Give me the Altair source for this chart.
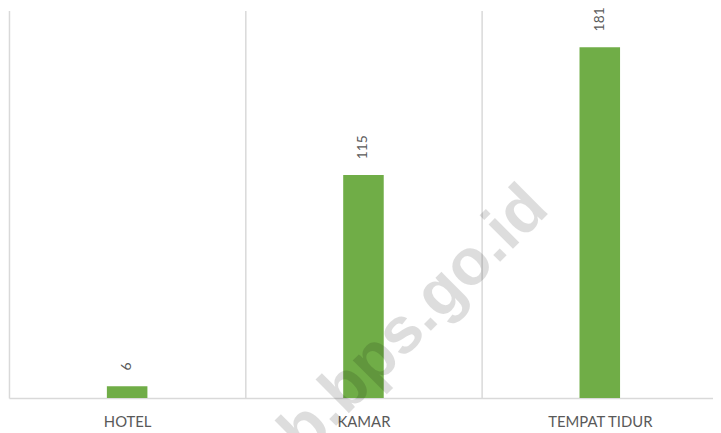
import altair as alt
import pandas as pd

categories = ["HOTEL", "KAMAR", "TEMPAT TIDUR"]
values = [6, 115, 181]
watermark = ["bb.bps.go.id"]

df = pd.DataFrame({"cat": categories, "val": values})
wm = pd.DataFrame({"t": watermark})

x_enc = alt.X(
    "cat:N",
    sort=categories,
    scale=alt.Scale(range=[0, 717], paddingInner=0, paddingOuter=0),
    axis=alt.Axis(
        title=None,
        labelAngle=0,
        ticks=False,
        grid=True,
        tickBand="extent",
        gridColor="#D9D9D9",
        gridWidth=1.5,
        domainColor="#D9D9D9",
        domainWidth=1.5,
        labelFont="Lato",
        labelFontSize=15,
        labelColor="#595959",
        labelPadding=17,
    ),
)
y_enc = alt.Y("val:Q", scale=alt.Scale(domain=[0, 200]), axis=None)

base = alt.Chart(df)
bars = base.mark_bar(size=41, color="#70AD47").encode(x=x_enc, y=y_enc)
labels = base.mark_text(
    angle=270, align="left", baseline="middle", dx=16,
    font="Lato", fontSize=14, color="#595959",
).encode(x=x_enc, y=y_enc, text="val:Q")

mark_wm = alt.Chart(wm).mark_text(
    angle=315, align="right", baseline="alphabetic",
    font="Liberation Sans", fontWeight="bold", fontSize=66,
    color="#000000", opacity=0.13,
).encode(x=alt.value(548), y=alt.value(203), text="t:N")

chart = alt.layer(bars, labels, mark_wm).properties(
    width=712,
    height=392,
    autosize=alt.AutoSizeParams(type="none"),
    padding={"left": 1, "top": 0, "right": 0, "bottom": 33},
).configure_view(stroke=None)

chart.save("out.html", embed_options={"renderer": "svg", "actions": False})
